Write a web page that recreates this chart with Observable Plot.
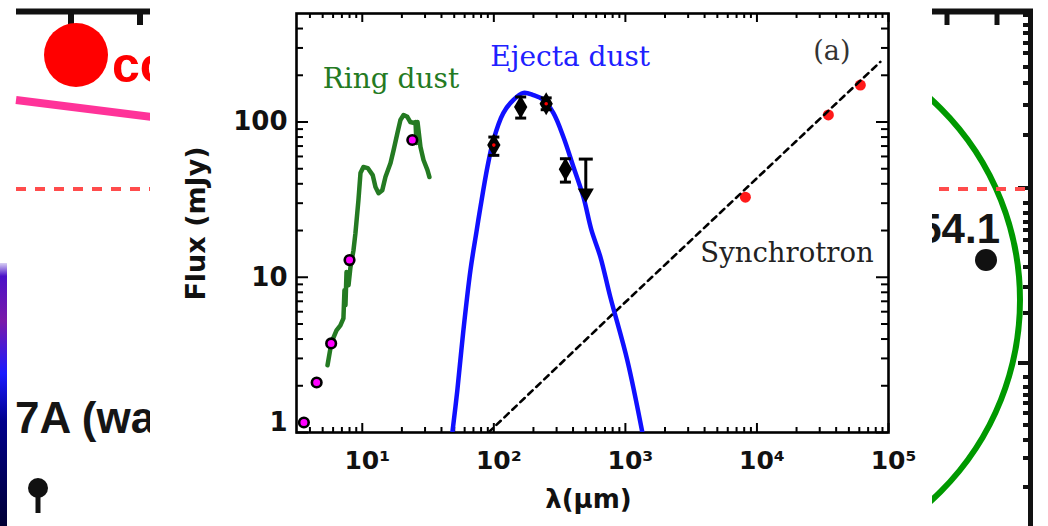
<!DOCTYPE html>
<html><head><meta charset="utf-8">
<script src="https://cdn.jsdelivr.net/npm/d3@7"></script>
<script src="https://cdn.jsdelivr.net/npm/@observablehq/plot@0.6"></script>
<style>
body{margin:0;background:#fff;}
#wrap{position:relative;width:1048px;height:526px;overflow:hidden;background:#fff;}
#bg,#chart{position:absolute;left:0;top:0;}
</style></head><body>
<div id="wrap"><svg id="bg" width="1048" height="526"></svg><div id="chart"></div></div>
<script>
// ---- data ----
const ringPhotWl   = [3.6, 4.5, 5.8, 8.0, 24];
const ringPhotFlux = [1.16, 2.1, 3.75, 12.9, 76.6];

const ringSpecWl   = [5.44, 5.83, 6.37, 6.82, 7.19, 7.32, 7.45, 7.59, 7.86, 8.13, 8.57, 8.87, 9.35, 9.69, 10.2, 11.0, 12.0, 12.6, 13.3, 14.2, 15.0, 16.4, 17.3, 18.5, 19.5, 20.6, 22.0, 23.2, 24.5, 25.4, 25.8, 26.3, 27.7, 29.2, 31.3, 32.4];
const ringSpecFlux = [2.71, 3.81, 4.55, 4.90, 5.44, 8.25, 6.6, 10.8, 8.88, 11.6, 14.9, 19.2, 31.4, 46.9, 51.3, 50.5, 45.5, 38.1, 34.8, 36.4, 44.2, 54.4, 65.9, 84.9, 103, 111, 108, 100, 98.6, 100, 73.2, 100, 69, 56.9, 49, 44.2];

const ejectaModelWl   = [48.4, 52.8, 58.7, 66.4, 73.7, 79.1, 89.4, 99.3, 118, 141, 168, 200, 238, 284, 338, 403, 480, 552, 646, 769, 1035, 1346];
const ejectaModelFlux = [1, 1.87, 4.55, 11.1, 19.5, 28.3, 51.3, 76.5, 114, 139, 154, 149, 139, 114, 80, 51.3, 32.8, 20.1, 13.5, 7.43, 2.91, 1];

const ejectaPhotWl   = [100, 160, 250, 350];
const ejectaPhotFlux = [71, 125, 131, 49.7];
const ejectaPhotLo   = [61, 106, 120, 41];
const ejectaPhotHi   = [80, 145, 143, 58];
const ejectaRedCore  = [true, false, true, false];

const upperLimitWl  = [500];
const upperLimitTop = [57.7];
const upperLimitTip = [32.8];

const synchWl   = [91, 811, 86700];
const synchFlux = [1, 5.85, 244];

const radioWl   = [8170, 34900, 61100];
const radioFlux = [32.8, 111, 173];

const xTickDecades = [1, 2, 3, 4, 5];
const yTickValues  = [1, 10, 100];
const minorMult    = [2, 3, 4, 5, 6, 7, 8, 9];
const superscripts = {1: "¹", 2: "²", 3: "³", 4: "⁴", 5: "⁵"};

const yAxisLabel = "Flux (mJy)";
const xAxisLabel = "λ(μm)";

// ---- derived tables ----
const ringPhot = ringPhotWl.map((w, i) => ({w, f: ringPhotFlux[i]}));
const ringSpec = ringSpecWl.map((w, i) => ({w, f: ringSpecFlux[i]}));
const ejModel = ejectaModelWl.map((w, i) => ({w, f: ejectaModelFlux[i]}));
const ejPhot = ejectaPhotWl.map((w, i) => ({w, f: ejectaPhotFlux[i], lo: ejectaPhotLo[i], hi: ejectaPhotHi[i], red: ejectaRedCore[i]}));
const ulim = upperLimitWl.map((w, i) => ({w, top: upperLimitTop[i], tip: upperLimitTip[i]}));
const synch = synchWl.map((w, i) => ({w, f: synchFlux[i]}));
const radio = radioWl.map((w, i) => ({w, f: radioFlux[i]}));

const xDomain = [Math.pow(10, 0.5), 1e5];
const yDomain = [1, 500];
const xMajor = xTickDecades.map(d => Math.pow(10, d));
const xMinor = [0, 1, 2, 3, 4].flatMap(d => minorMult.map(k => k * Math.pow(10, d))).filter(v => v > xDomain[0] && v < xDomain[1]);
const yMinor = [0, 1, 2].flatMap(d => minorMult.map(k => k * Math.pow(10, d))).filter(v => v < yDomain[1]);

const SANS = "DejaVu Sans, sans-serif";
const SERIF = "DejaVu Serif, serif";
const W = 1048, H = 526, mL = 296, mR = 160, mT = 13, mB = 94;
const FW = W - mL - mR, FH = H - mT - mB;

const hbar = {draw(ctx, size) { const r = Math.sqrt(size / Math.PI); ctx.moveTo(-r, 0); ctx.lineTo(r, 0); }};

const GREEN = "#247a22", BLUE = "#1010ff";

const chart = Plot.plot({
  width: W, height: H,
  marginLeft: mL, marginRight: mR, marginTop: mT, marginBottom: mB,
  x: {type: "log", domain: xDomain, axis: null},
  y: {type: "log", domain: yDomain, axis: null},
  style: {background: "transparent", fontFamily: SANS, color: "black"},
  marks: [
    // ticks (inward)
    Plot.ruleX(xMajor, {x: d => d, insetTop: FH - 9, stroke: "black", strokeWidth: 2}),
    Plot.ruleX(xMinor, {x: d => d, insetTop: FH - 5, stroke: "black", strokeWidth: 2}),
    Plot.ruleX(xMajor, {x: d => d, insetBottom: FH - 9, stroke: "black", strokeWidth: 2}),
    Plot.ruleX(xMinor, {x: d => d, insetBottom: FH - 5, stroke: "black", strokeWidth: 2}),
    Plot.ruleY(yTickValues, {y: d => d, insetRight: FW - 12, stroke: "black", strokeWidth: 2}),
    Plot.ruleY(yMinor, {y: d => d, insetRight: FW - 7, stroke: "black", strokeWidth: 2}),
    Plot.ruleY(yTickValues, {y: d => d, insetLeft: FW - 12, stroke: "black", strokeWidth: 2}),
    Plot.ruleY(yMinor, {y: d => d, insetLeft: FW - 7, stroke: "black", strokeWidth: 2}),
    Plot.frame({stroke: "black", strokeWidth: 2.6}),

    // tick labels
    Plot.text(xTickDecades, {x: d => Math.pow(10, d), text: d => "10" + superscripts[d], frameAnchor: "bottom", dy: 36, dx: 5,
      textAnchor: "middle", fontSize: 25, fontWeight: "bold", fontFamily: SANS, fill: "#111"}),
    Plot.text(yTickValues.filter(v => v > 1), {y: d => d, text: d => String(d), frameAnchor: "left", dx: -9, textAnchor: "end",
      fontSize: 26, fontWeight: "bold", fontFamily: SANS, fill: "#111"}),
    Plot.text(yTickValues.filter(v => v === 1), {y: d => d, text: d => String(d), frameAnchor: "left", dx: -9, dy: -10, textAnchor: "end",
      fontSize: 26, fontWeight: "bold", fontFamily: SANS, fill: "#111"}),

    // axis labels
    Plot.text([yAxisLabel], {text: d => d, frameAnchor: "top-left", dx: -111, dy: 210, rotate: -90, textAnchor: "middle",
      fontSize: 27, fontWeight: "bold", fontFamily: SANS, fill: "#111"}),
    Plot.text([xAxisLabel], {text: d => d, frameAnchor: "bottom-left", dx: 292, dy: 75, textAnchor: "middle",
      fontSize: 26, fontWeight: "bold", fontFamily: SANS, fill: "#111"}),

    // ring dust spectrum
    Plot.line(ringSpec, {x: "w", y: "f", stroke: GREEN, strokeWidth: 4.5, strokeLinejoin: "round", clip: true}),

    // synchrotron
    Plot.dot(radio, {x: "w", y: "f", r: 5.5, fill: "#ff1a1a"}),
    Plot.line(synch, {x: "w", y: "f", stroke: "black", strokeWidth: 2.6, strokeDasharray: "6,5", clip: true}),

    // ejecta model
    Plot.line(ejModel, {x: "w", y: "f", stroke: BLUE, strokeWidth: 4.5, curve: "catmull-rom", clip: true}),

    // ejecta photometry
    Plot.ruleX(ejPhot, {x: "w", y1: "lo", y2: "hi", stroke: "black", strokeWidth: 3}),
    Plot.dot(ejPhot, {x: "w", y: "lo", symbol: hbar, r: 5.5, fill: "none", stroke: "black", strokeWidth: 3}),
    Plot.dot(ejPhot, {x: "w", y: "hi", symbol: hbar, r: 5.5, fill: "none", stroke: "black", strokeWidth: 3}),
    Plot.dot(ejPhot, {x: "w", y: "f", r: 7, fill: "black", symbol: "diamond"}),
    Plot.dot(ejPhot.filter(d => d.red), {x: "w", y: "f", r: 1.8, fill: "#ff0000"}),

    // upper limit
    Plot.ruleX(ulim, {x: "w", y1: "tip", y2: "top", stroke: "black", strokeWidth: 3}),
    Plot.dot(ulim, {x: "w", y: "top", symbol: hbar, r: 7, fill: "none", stroke: "black", strokeWidth: 3}),
    Plot.dot(ulim, {x: "w", y: "tip", symbol: "triangle", rotate: 180, r: 6, dy: -4, fill: "black"}),

    // ring photometry
    Plot.dot(ringPhot, {x: "w", y: "f", r: 4.8, fill: "#ff00ff", stroke: "black", strokeWidth: 2.6}),

    // annotations
    Plot.text(["Ring dust"], {x: 5, y: 166, text: d => d, textAnchor: "start", lineAnchor: "bottom",
      fill: GREEN, fontFamily: SERIF, fontSize: 28}),
    Plot.text(["Ejecta dust"], {x: 94, y: 230, text: d => d, textAnchor: "start", lineAnchor: "bottom",
      fill: "#2020ff", fontFamily: SERIF, fontSize: 28}),
    Plot.text(["(a)"], {x: 26800, y: 251, text: d => d, textAnchor: "start", lineAnchor: "bottom",
      fill: "#333", fontFamily: SERIF, fontSize: 27}),
    Plot.text(["Synchrotron"], {x: 3715, y: 12.5, text: d => d, textAnchor: "start", lineAnchor: "bottom",
      fill: "#222", fontFamily: SERIF, fontSize: 27.5})
  ]
});
document.getElementById("chart").appendChild(chart);

// ---- surrounding collage fragments (decoration behind the chart) ----
const bg = d3.select("#bg");
const defs = bg.append("defs");
defs.append("clipPath").attr("id", "cl").append("rect").attr("x", 0).attr("y", 0).attr("width", 150).attr("height", 526);
defs.append("clipPath").attr("id", "cr").append("rect").attr("x", 932).attr("y", 0).attr("width", 116).attr("height", 526);
const grad = defs.append("linearGradient").attr("id", "cb").attr("x1", 0).attr("y1", 0).attr("x2", 0).attr("y2", 1);
[[0, "#d8d0f4"], [0.05, "#4a10c8"], [0.22, "#7a1aa8"], [0.42, "#1a1aff"], [0.6, "#00008c"], [1, "#000034"]]
  .forEach(([o, c]) => grad.append("stop").attr("offset", o).attr("stop-color", c));

const L = bg.append("g").attr("clip-path", "url(#cl)");
L.append("rect").attr("x", 0).attr("y", 263).attr("width", 7).attr("height", 263).attr("fill", "url(#cb)");
L.append("line").attr("x1", 16).attr("x2", 160).attr("y1", 11.5).attr("y2", 11.5).attr("stroke", "#111").attr("stroke-width", 6);
[71, 140].forEach(x => L.append("line").attr("x1", x).attr("x2", x).attr("y1", 10).attr("y2", 25).attr("stroke", "#111").attr("stroke-width", 6));
L.append("circle").attr("cx", 76).attr("cy", 55).attr("r", 32).attr("fill", "#ff0000");
L.append("text").attr("x", 112).attr("y", 82).attr("fill", "#ff0000").attr("font-family", "Liberation Sans, Arial, sans-serif")
  .attr("font-weight", "bold").attr("font-size", 50).text("co");
L.append("line").attr("x1", 16).attr("y1", 100).attr("x2", 160).attr("y2", 118).attr("stroke", "#ff3399").attr("stroke-width", 8);
L.append("line").attr("x1", 16).attr("y1", 189).attr("x2", 160).attr("y2", 189).attr("stroke", "#ff4c4c").attr("stroke-width", 4).attr("stroke-dasharray", "10,9");
L.append("text").attr("x", 15).attr("y", 433).attr("fill", "#151515").attr("font-family", "Liberation Sans, Arial, sans-serif")
  .attr("font-weight", "bold").attr("font-size", 44).text("7A (wa");
L.append("line").attr("x1", 38).attr("x2", 38).attr("y1", 490).attr("y2", 513).attr("stroke", "#111").attr("stroke-width", 5);
L.append("circle").attr("cx", 38).attr("cy", 488).attr("r", 10).attr("fill", "#111");

const R = bg.append("g").attr("clip-path", "url(#cr)");
R.append("circle").attr("cx", 749).attr("cy", 300).attr("r", 271).attr("fill", "none").attr("stroke", "#009900").attr("stroke-width", 6);
R.append("line").attr("x1", 920).attr("x2", 1033).attr("y1", 11.5).attr("y2", 11.5).attr("stroke", "#111").attr("stroke-width", 6);
[947, 997].forEach(x => R.append("line").attr("x1", x).attr("x2", x).attr("y1", 10).attr("y2", 25).attr("stroke", "#111").attr("stroke-width", 5));
R.append("line").attr("x1", 1030.5).attr("x2", 1030.5).attr("y1", 9).attr("y2", 526).attr("stroke", "#111").attr("stroke-width", 5);
const rulerMajor = [188, 363];
const rulerMinor = [15, 25, 33, 43, 53, 67, 83, 105, 135, 203, 213, 222, 230, 240, 252, 267, 287, 313, 377, 387, 395, 403, 413, 425, 440, 458, 487];
rulerMajor.forEach(y => R.append("line").attr("x1", 1018).attr("x2", 1031).attr("y1", y).attr("y2", y).attr("stroke", "#111").attr("stroke-width", 4));
rulerMinor.forEach(y => R.append("line").attr("x1", 1023).attr("x2", 1031).attr("y1", y).attr("y2", y).attr("stroke", "#111").attr("stroke-width", 4));
R.append("line").attr("x1", 920).attr("y1", 189).attr("x2", 1030).attr("y2", 189).attr("stroke", "#ff4c4c").attr("stroke-width", 4).attr("stroke-dasharray", "10,9");
R.append("text").attr("x", 1000).attr("y", 243).attr("text-anchor", "end").attr("fill", "#151515").attr("font-family", "Liberation Sans, Arial, sans-serif")
  .attr("font-weight", "bold").attr("font-size", 42).text("54.1");
R.append("circle").attr("cx", 986).attr("cy", 260).attr("r", 11).attr("fill", "#111");
</script>
</body></html>
